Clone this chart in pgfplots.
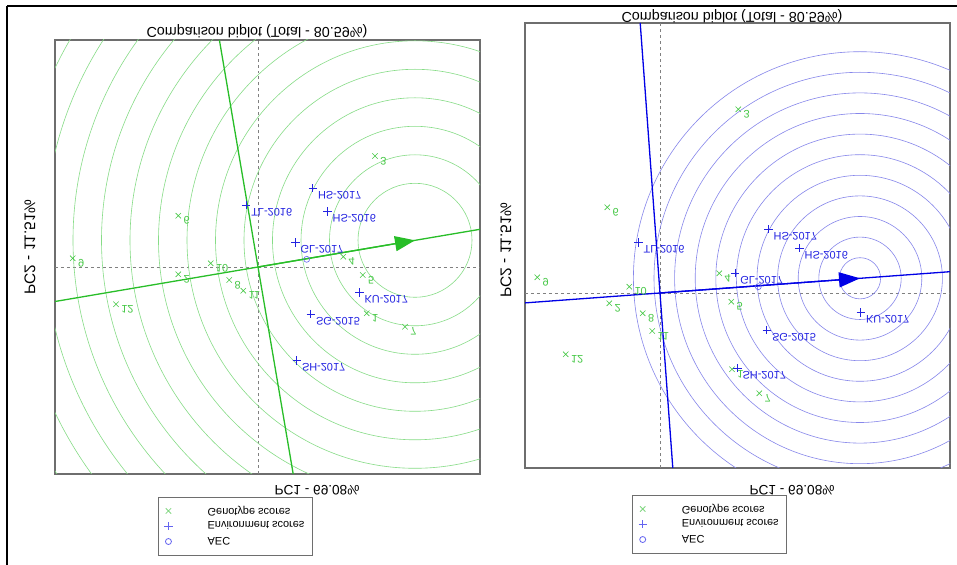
\documentclass[border=0pt]{standalone}
\usepackage{fontspec}
\setmainfont{Liberation Sans}
\usepackage{graphicx}
\usepackage{pgfplots}
\usepackage{pgfplotstable}
\pgfplotsset{compat=1.18}
\usetikzlibrary{arrows.meta}

\definecolor{gen}{RGB}{70,200,70}
\definecolor{genleg}{RGB}{130,215,130}
\definecolor{env}{RGB}{35,35,225}
\definecolor{envleg}{RGB}{100,100,240}
\definecolor{circL}{RGB}{135,220,135}
\definecolor{lineL}{RGB}{40,190,40}
\definecolor{circR}{RGB}{135,135,235}
\definecolor{lineR}{RGB}{0,0,230}
\definecolor{frame}{RGB}{110,110,110}

% text mirrored top-to-bottom, keeping its own height and depth
\newcommand{\fl}[1]{\sbox0{#1}\raisebox{\dimexpr\ht0-\dp0\relax}[\ht0][\dp0]{\scalebox{1}[-1]{\usebox0}}}

% Left panel (genotype-focused), units = 100 px
\pgfplotstableread{
x y lab
-0.797 0.513 6
-1.853 0.087 9
-0.797 -0.073 2
-0.473 0.037 10
-0.287 -0.130 8
-0.147 -0.237 11
-1.420 -0.373 12
0.853 0.103 4
1.047 -0.080 5
1.087 -0.463 1
1.470 -0.597 7
1.170 1.110 3
}\genL
\pgfplotstableread{
x y lab
0.547 0.787 HS-2017
0.693 0.553 HS-2016
-0.120 0.620 TL-2016
0.373 0.243 GL-2017
1.013 -0.257 KU-2017
0.527 -0.470 SG-2015
0.387 -0.937 SH-2017
}\envL
% Right panel (environment-focused)
\pgfplotstableread{
x y lab
0.783 1.837 3
-0.527 0.857 6
-1.227 0.157 9
-0.307 0.063 10
-0.507 -0.103 2
-0.173 -0.203 8
-0.077 -0.380 11
-0.943 -0.613 12
0.593 0.197 4
0.713 -0.087 5
0.720 -0.763 1
0.993 -1.003 7
}\genR
\pgfplotstableread{
x y lab
1.083 0.637 HS-2017
1.393 0.447 HS-2016
-0.217 0.503 TL-2016
0.750 0.197 GL-2017
2.007 -0.197 KU-2017
1.067 -0.370 SG-2015
0.773 -0.753 SH-2017
}\envR

\pgfplotsset{
  biplot/.style={
    anchor=south west, x=100bp, y=100bp,
    xtick=\empty, ytick=\empty,
    axis line style={draw=frame, line width=1.4bp},
    clip=true,
    legend cell align=left,
    legend style={draw=frame, line width=0.8bp, fill=white,
      font=\fontsize{11}{12}\selectfont, anchor=north west,
      inner xsep=6bp, inner ysep=7bp, row sep=2bp,
      /tikz/every odd column/.append style={column sep=33bp}},
  },
  genpts/.style={only marks, mark=x, mark size=3.8bp, color=gen,
    mark options={line width=0.6bp},
    point meta=explicit symbolic,
    nodes near coords={\fl{\pgfplotspointmeta}},
    nodes near coords style={anchor=west, inner sep=0pt, xshift=5bp, yshift=-5bp,
      font=\fontsize{11}{12}\selectfont, text=gen}},
  envpts/.style={only marks, mark=+, mark size=4.2bp, color=env,
    mark options={line width=0.6bp},
    point meta=explicit symbolic,
    nodes near coords={\fl{\pgfplotspointmeta}},
    nodes near coords style={anchor=west, inner sep=0pt, xshift=5bp, yshift=-7bp,
      font=\fontsize{11}{12}\selectfont, text=env}},
  aecpt/.style={only marks, mark=o, mark size=3bp, color=envleg, mark options={line width=0.6bp}},
}

\begin{document}
\begin{tikzpicture}
\useasboundingbox (0,0) rectangle (957bp,565bp);
\fill[white] (0,0) rectangle (957bp,565bp);
\draw[line width=1.5bp] (7bp,559bp) -- (957bp,559bp);
\draw[line width=1.5bp] (7bp,559bp) -- (7bp,0bp);

% ---------------- left panel ----------------
\begin{axis}[biplot, at={(55bp,91bp)},
  xmin=-2.03, xmax=2.22, ymin=-2.07, ymax=2.27,
  legend style={at={(0.242,-0.053)}}]
\addplot[gray, dashed, line width=0.6bp, forget plot] coordinates {(-2.03,0) (2.22,0)};
\addplot[gray, dashed, line width=0.6bp, forget plot] coordinates {(0,-2.07) (0,2.27)};
\pgfplotsinvokeforeach{2,...,15}{
  \draw[circL, line width=0.6bp] (axis cs:1.57,0.267) circle[radius=#1*28.5bp];
}
\addplot[lineL, line width=1.3bp, forget plot] coordinates {(-2.03,-0.345) (2.22,0.377)};
\addplot[lineL, line width=1.3bp, forget plot, -{Triangle[length=20bp,width=15bp]}] coordinates {(0,0) (1.57,0.267)};
\addplot[lineL, line width=1.3bp, forget plot] coordinates {(-0.386,2.27) (0.352,-2.07)};
\addplot[genpts, forget plot] table[meta=lab] {\genL};
\addplot[envpts, forget plot] table[meta=lab] {\envL};
\addplot[aecpt, forget plot] coordinates {(0.487,0.077)};
\addlegendimage{only marks, mark=x, mark size=3.8bp, genleg}
\addlegendimage{only marks, mark=+, mark size=4.2bp, envleg}
\addlegendimage{only marks, mark=o, mark size=3bp, envleg}
\legend{\fl{Genotype scores}, \fl{Environment scores}, \fl{AEC}}
\end{axis}

% ---------------- right panel ----------------
\begin{axis}[biplot, at={(525bp,97bp)},
  xmin=-1.35, xmax=2.90, ymin=-1.75, ymax=2.70,
  legend style={at={(0.252,-0.0607)}}]
\addplot[gray, dashed, line width=0.6bp, forget plot] coordinates {(-1.35,0) (2.90,0)};
\addplot[gray, dashed, line width=0.6bp, forget plot] coordinates {(0,-1.75) (0,2.70)};
\pgfplotsinvokeforeach{1,...,11}{
  \draw[circR, line width=0.6bp] (axis cs:2.0,0.147) circle[radius=#1*20.6bp];
}
\addplot[lineR, line width=1.3bp, forget plot] coordinates {(-1.35,-0.099) (2.90,0.213)};
\addplot[lineR, line width=1.3bp, forget plot, -{Triangle[length=21bp,width=15bp]}] coordinates {(0,0) (2.0,0.147)};
\addplot[lineR, line width=1.3bp, forget plot] coordinates {(-0.198,2.70) (0.128,-1.75)};
\addplot[genpts, forget plot] table[meta=lab] {\genR};
\addplot[envpts, forget plot] table[meta=lab] {\envR};
\addplot[aecpt, forget plot] coordinates {(0.983,0.063)};
\addlegendimage{only marks, mark=x, mark size=3.8bp, genleg}
\addlegendimage{only marks, mark=+, mark size=4.2bp, envleg}
\addlegendimage{only marks, mark=o, mark size=3bp, envleg}
\legend{\fl{Genotype scores}, \fl{Environment scores}, \fl{AEC}}
\end{axis}

% titles and axis labels
\node[font=\fontsize{14.4}{16}\selectfont, inner sep=0pt] at (257bp,534bp) {\fl{Comparison biplot (Total - 80.59\%)}};
\node[font=\fontsize{14.4}{16}\selectfont, inner sep=0pt] at (732bp,548.5bp) {\fl{Comparison biplot (Total - 80.59\%)}};
\node[font=\fontsize{13.7}{15}\selectfont, inner sep=0pt] at (317bp,75bp) {\fl{PC1 - 69.08\%}};
\node[font=\fontsize{13.7}{15}\selectfont, inner sep=0pt] at (792bp,75bp) {\fl{PC1 - 69.08\%}};
\node[font=\fontsize{15.5}{17}\selectfont, inner sep=0pt, rotate=90] at (30bp,318bp) {\fl{PC2 - 11.51\%}};
\node[font=\fontsize{15.5}{17}\selectfont, inner sep=0pt, rotate=90] at (506bp,315bp) {\fl{PC2 - 11.51\%}};
\end{tikzpicture}
\end{document}
